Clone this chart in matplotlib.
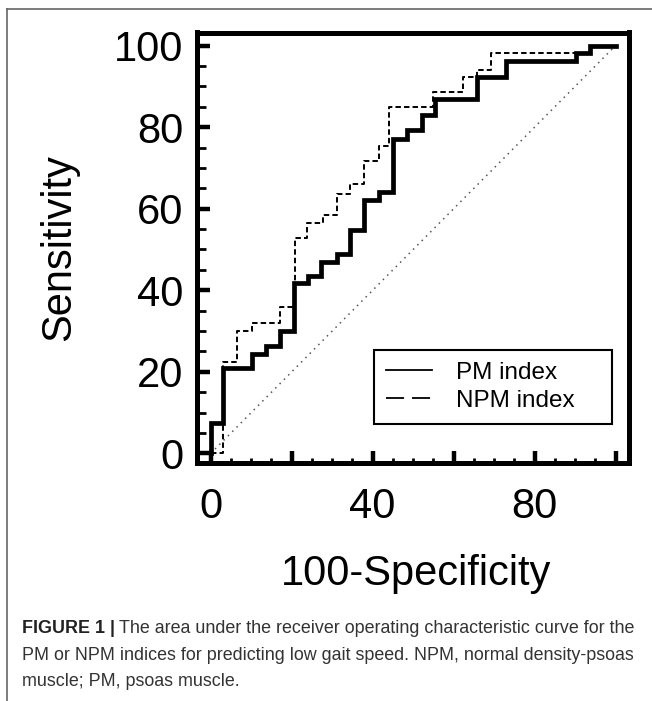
import matplotlib
matplotlib.use("Agg")
import matplotlib.pyplot as plt
from matplotlib.lines import Line2D
from matplotlib.ticker import MultipleLocator

# ---------------- data ----------------
pm_fpr = [0, 0, 3.1, 10.1, 13.7, 17.1, 20.6, 24.1, 27.2, 31.1, 34.4, 37.8, 41.6,
          45.1, 48.4, 52.1, 55.4, 65.8, 72.9, 90.2, 93.7, 100]
pm_tpr = [0, 7.5, 20.9, 24.4, 26.3, 30.0, 41.7, 43.5, 47.0, 49.0, 54.7, 62.1, 64.0,
          77.2, 79.3, 82.9, 86.8, 92.3, 96.2, 98.1, 100, 100]
npm_fpr = [0, 3.1, 6.4, 10.1, 17.1, 20.8, 23.9, 27.7, 31.1, 34.5, 37.8, 41.6, 44.1,
           55.0, 62.4, 65.8, 69.1, 93.7, 100]
npm_tpr = [0, 22.5, 30.0, 31.9, 35.8, 52.7, 56.5, 58.4, 63.7, 66.0, 71.7, 75.3, 85.0,
           88.7, 92.3, 94.1, 98.1, 100, 100]
ref_line = [0, 100]

x_ticks = [0, 20, 40, 60, 80, 100]
x_ticklabels = ["0", "", "40", "", "80", ""]
y_ticks = [0, 20, 40, 60, 80, 100]
y_ticklabels = ["0", "20", "40", "60", "80", "100"]
legend_labels = ["PM index", "NPM index"]
x_label = "100-Specificity"
y_label = "Sensitivity"
caption_bold = "FIGURE 1 |"
caption_lines = [
    "The area under the receiver operating characteristic curve for the",
    "PM or NPM indices for predicting low gait speed. NPM, normal density-psoas",
    "muscle; PM, psoas muscle.",
]

# ---------------- figure ----------------
plt.rcParams['font.family'] = ['Liberation Sans', 'DejaVu Sans']
W, H = 652, 701
fig = plt.figure(figsize=(W / 100, H / 100), dpi=100)
ax = fig.add_axes([197 / W, 1 - 463 / H, (629 - 197) / W, (463 - 32.5) / H])

ax.plot(ref_line, ref_line, linestyle=(0, (1, 3)), color='#555555', lw=1.1)
ax.plot(npm_fpr, npm_tpr, drawstyle='steps-post', color='black', lw=1.4,
        dashes=(2.8, 1.6))
ax.plot(pm_fpr, pm_tpr, drawstyle='steps-post', color='black', lw=3.4,
        solid_joinstyle='miter', solid_capstyle='projecting')

ax.set_xlim(-3.38, 103.3)
ax.set_ylim(-2.35, 103.2)

ax.set_xticks(x_ticks)
ax.set_xticklabels(x_ticklabels)
ax.set_yticks(y_ticks)
ax.set_yticklabels(y_ticklabels)
ax.xaxis.set_minor_locator(MultipleLocator(5))
ax.yaxis.set_minor_locator(MultipleLocator(5))

ax.tick_params(axis='both', which='both', direction='in', colors='black')
ax.tick_params(axis='both', which='major', width=3.2, labelsize=30)
ax.tick_params(axis='both', which='minor', width=2.0)
ax.tick_params(axis='y', which='major', length=9.4, pad=9.9)
ax.tick_params(axis='y', which='minor', length=6.3)
ax.tick_params(axis='x', which='major', length=8.4, pad=17.5)
ax.tick_params(axis='x', which='minor', length=3.6)

for sp in ax.spines.values():
    sp.set_linewidth(3.6)
    sp.set_color('black')

ax.set_xlabel(x_label, fontsize=30)
ax.set_ylabel(y_label, fontsize=30)
ax.xaxis.set_label_coords(0.507, (463 - 554) / (463 - 32.5))
ax.yaxis.set_label_coords((79 - 197) / (629 - 197), 0.5)

h1 = Line2D([], [], color='black', lw=1.3)
h2 = Line2D([], [], color='black', lw=1.3, dashes=(10, 4.4))
leg = ax.legend([h1, h2], legend_labels, loc='lower left',
                bbox_to_anchor=(0.41, 0.0907, 0.55, 0.2), mode='expand',
                borderaxespad=0, fontsize=17.5, frameon=True, fancybox=False,
                edgecolor='black', framealpha=1, handlelength=1.9,
                handletextpad=0.95, borderpad=0.5, labelspacing=0.25)
leg.get_frame().set_linewidth(1.5)

# outer border
bx = 7.3 / W
by = 1 - 9 / H
fig.add_artist(Line2D([bx, bx], [0, by], transform=fig.transFigure,
                      color='#666666', lw=1.2))
fig.add_artist(Line2D([bx, 1], [by, by], transform=fig.transFigure,
                      color='#666666', lw=1.2))

# caption
cap_family = ['Liberation Sans Narrow', 'Liberation Sans']
fig.canvas.draw()
r = fig.canvas.get_renderer()
size = 15
x0 = 22 / W
t2 = fig.text(x0, 1 - 660 / H, caption_lines[1], fontsize=size, family=cap_family,
              color='#333333', va='baseline', ha='left')
w = t2.get_window_extent(r).width
size = size * 611 / w
t2.set_fontsize(size)
tb = fig.text(x0, 1 - 633 / H, caption_bold, fontsize=size, family=cap_family,
              fontweight='bold', color='#222222', va='baseline', ha='left')
fig.canvas.draw()
bw = tb.get_window_extent(r).width
space = size * 100 / 72 * 0.25
fig.text(x0 + (bw + space) / W, 1 - 633 / H, caption_lines[0], fontsize=size,
         family=cap_family, color='#333333', va='baseline', ha='left')
fig.text(x0, 1 - 686 / H, caption_lines[2], fontsize=size, family=cap_family,
         color='#333333', va='baseline', ha='left')

fig.savefig('out.png', dpi=100)
